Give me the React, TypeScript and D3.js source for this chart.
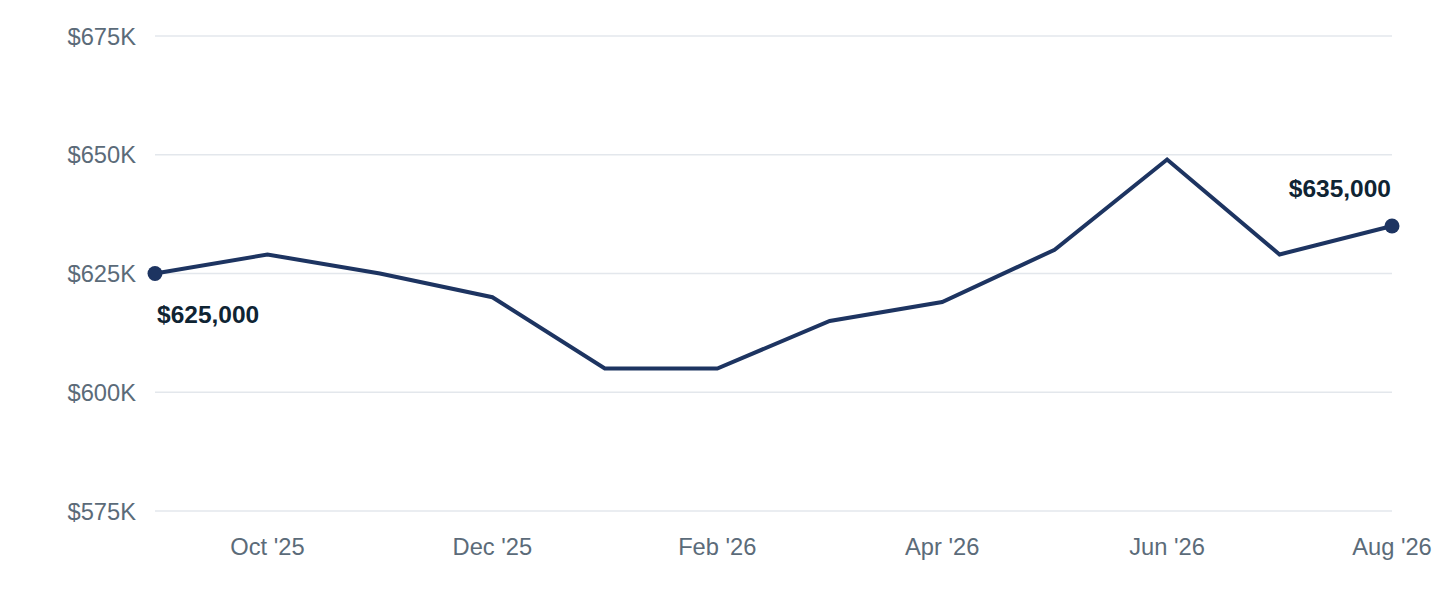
import React, { useEffect, useRef } from "react";
import * as d3 from "d3";

const months = ["Sep '25", "Oct '25", "Nov '25", "Dec '25", "Jan '26", "Feb '26", "Mar '26", "Apr '26", "May '26", "Jun '26", "Jul '26", "Aug '26"];
const values = [625000, 629000, 625000, 620000, 605000, 605000, 615000, 619000, 630000, 649000, 629000, 635000];
const yTicks = [575000, 600000, 625000, 650000, 675000];
const xTickLabels = ["Oct '25", "Dec '25", "Feb '26", "Apr '26", "Jun '26", "Aug '26"];

const W = 1440;
const H = 600;
const margin = { left: 155, right: 48, top: 36, bottom: 89 };

export default function App() {
  const ref = useRef<SVGSVGElement | null>(null);

  useEffect(() => {
    const svg = d3.select(ref.current);
    svg.selectAll("*").remove();
    const data = months.map((m, i) => ({ m, v: values[i] }));

    const x = d3.scalePoint<string>().domain(months).range([margin.left, W - margin.right]);
    const y = d3.scaleLinear().domain([575000, 675000]).range([H - margin.bottom, margin.top]);

    const font = "Helvetica, Arial, 'Liberation Sans', sans-serif";
    const axisColor = "#5b6b79";

    svg.append("g")
      .selectAll("line")
      .data(yTicks)
      .join("line")
      .attr("x1", margin.left)
      .attr("x2", W - margin.right)
      .attr("y1", (d) => y(d))
      .attr("y2", (d) => y(d))
      .attr("stroke", "#e3e7ec")
      .attr("stroke-width", 1.5);

    svg.append("g")
      .selectAll("text")
      .data(yTicks)
      .join("text")
      .attr("x", 136)
      .attr("y", (d) => y(d))
      .attr("dy", "0.36em")
      .attr("text-anchor", "end")
      .attr("font-family", font)
      .attr("font-size", 23.7)
      .attr("fill", axisColor)
      .text((d) => `$${d / 1000}K`);

    svg.append("g")
      .selectAll("text")
      .data(xTickLabels)
      .join("text")
      .attr("x", (d) => x(d) as number)
      .attr("y", 555)
      .attr("text-anchor", "middle")
      .attr("font-family", font)
      .attr("font-size", 23.7)
      .attr("fill", axisColor)
      .text((d) => d);

    const line = d3.line<{ m: string; v: number }>()
      .x((p) => x(p.m) as number)
      .y((p) => y(p.v));

    svg.append("path")
      .datum(data)
      .attr("d", line)
      .attr("fill", "none")
      .attr("stroke", "#1d3461")
      .attr("stroke-width", 4)
      .attr("stroke-linejoin", "miter");

    const ends = [data[0], data[data.length - 1]];
    svg.append("g")
      .selectAll("circle")
      .data(ends)
      .join("circle")
      .attr("cx", (p) => x(p.m) as number)
      .attr("cy", (p) => y(p.v))
      .attr("r", 7.5)
      .attr("fill", "#1d3461");

    const money = d3.format("$,");
    svg.append("text")
      .attr("x", (x(data[0].m) as number) + 2)
      .attr("y", y(data[0].v) + 49)
      .attr("text-anchor", "start")
      .attr("font-family", font)
      .attr("font-size", 24.5)
      .attr("font-weight", "bold")
      .attr("fill", "#0f2433")
      .text(money(data[0].v));

    const last = data[data.length - 1];
    svg.append("text")
      .attr("x", (x(last.m) as number) - 1)
      .attr("y", y(last.v) - 29)
      .attr("text-anchor", "end")
      .attr("font-family", font)
      .attr("font-size", 24.5)
      .attr("font-weight", "bold")
      .attr("fill", "#0f2433")
      .text(money(last.v));
  }, []);

  return (
    <svg
      ref={ref}
      width={W}
      height={H}
      style={{ position: "absolute", left: 0, top: 0, background: "#fff" }}
    />
  );
}
